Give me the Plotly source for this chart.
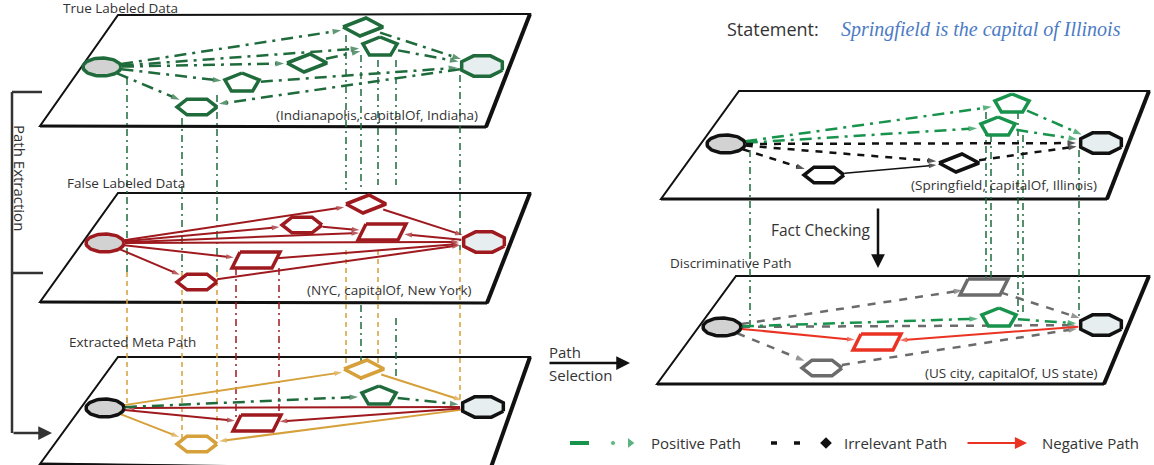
import numpy as np
import plotly.graph_objects as go

W, H = 1154, 465

GREEN_L = '#1f6b3b'
GREEN_R = '#17934c'
DRED = '#9e1a1f'
ORANGE = '#d6a03a'
RED = '#ea3323'
GRAY = '#6b6b6b'
BLACK = '#111111'
SRC_FILL = '#d2d2d2'
TGT_FILL = '#e6eef0'
TXT = '#333333'
FONT = 'Open Sans'

# ---- planes (corners: TL, TR, BR, BL) ----
plane_x = [[118, 530, 486, 40], [118, 530, 487, 40], [118, 530, 490, 40],
           [739, 1149, 1107, 661], [736, 1149, 1104, 657]]
plane_y = [[15, 14, 127, 126], [193, 193, 303, 302], [357, 357, 470, 464],
           [91, 91, 199, 199], [276, 276, 384, 384]]
plane_titles = ['True Labeled Data', 'False Labeled Data', 'Extracted Meta Path', '', 'Discriminative Path']
title_x = [63, 67, 69, 0, 670]
title_y = [8, 183, 342, 0, 263]
triples = ['(Indianapolis, capitalOf, Indiana)', '(NYC, capitalOf, New York)', '',
           '(Springfield, capitalOf, Illinois)', '(US city, capitalOf, US state)']
triple_x = [478, 472, 0, 1097, 1097]
triple_y = [115, 290, 0, 185, 373]

# ---- nodes per plane ----
p1_x = [102, 482, 363, 380, 307, 242, 197]
p1_y = [67, 66, 27, 47, 63, 83, 107]
p1_kind = ['ellipse', 'octagon', 'rhombus', 'pentagon', 'rhombus', 'pentagon', 'hexagon']
p1_col = [GREEN_L] * 7

p2_x = [105, 484, 366, 302, 382, 256, 197]
p2_y = [243, 242, 204, 225, 232, 260, 282]
p2_kind = ['ellipse', 'octagon', 'rhombus', 'hexagon', 'square', 'square', 'hexagon']
p2_col = [DRED] * 7

p3_x = [105, 483, 364, 379, 257, 197]
p3_y = [408, 407, 369, 396, 423, 444]
p3_kind = ['ellipse', 'octagon', 'rhombus', 'pentagon', 'square', 'hexagon']
p3_col = [BLACK, BLACK, ORANGE, GREEN_L, DRED, ORANGE]

r1_x = [726, 1101, 1012, 998, 959, 824]
r1_y = [144, 143, 104, 127, 163, 175]
r1_kind = ['ellipse', 'octagon', 'pentagon', 'pentagon', 'rhombus', 'hexagon']
r1_col = [BLACK, BLACK, GREEN_R, GREEN_R, BLACK, BLACK]

r2_x = [722, 1101, 984, 999, 877, 822]
r2_y = [327, 325, 287, 318, 342, 368]
r2_kind = ['ellipse', 'octagon', 'square', 'pentagon', 'square', 'hexagon']
r2_col = [BLACK, BLACK, GRAY, GREEN_R, RED, GRAY]

# node half sizes by kind
size_rx = {'ellipse': 19, 'octagon': 22, 'rhombus': 20, 'pentagon': 18, 'hexagon': 20, 'square': 20}
size_ry = {'ellipse': 9, 'octagon': 11, 'rhombus': 9, 'pentagon': 10, 'hexagon': 9, 'square': 8}

# ---- edges (from, to) per plane & style ----
p1_pos = [(0, 2), (2, 1), (0, 3), (3, 1), (0, 4), (4, 3), (0, 5), (5, 1), (0, 6), (1, 6)]
p2_neg = [(0, 2), (2, 1), (0, 3), (3, 4), (0, 4), (1, 4), (0, 1), (0, 5), (5, 1), (0, 6), (6, 1)]
p3_ora = [(0, 2), (2, 1), (0, 5), (1, 5)]
p3_red = [(0, 4), (1, 4), (1, 0)]
p3_pos = [(0, 3), (3, 1)]
r1_pos = [(0, 2), (2, 1), (0, 3), (3, 1)]
r1_irr = [(0, 1), (0, 5), (0, 4), (4, 1)]
r1_blk = [(5, 4)]
r2_irr = [(0, 2), (2, 1), (0, 5), (5, 1), (0, 1)]
r2_pos = [(0, 3), (3, 1)]
r2_neg = [(0, 4), (1, 4)]

# ---- vertical projection lines ----
v_x = [127, 182, 217, 346, 361, 361, 378, 396, 396, 460,
       127, 182, 217, 346, 378, 460,
       236, 279,
       750, 986, 991, 1018, 1023, 1079]
v_y0 = [78, 118, 95, 35, 55, 305, 60, 60, 318, 75,
        272, 272, 272, 250, 250, 250,
        268, 268,
        150, 112, 135, 112, 135, 150]
v_y1 = [272, 272, 272, 190, 190, 380, 185, 185, 380, 250,
        405, 440, 440, 372, 368, 400,
        418, 418,
        325, 282, 282, 312, 312, 320]
v_kind = ['g'] * 10 + ['o'] * 6 + ['r'] * 2 + ['g'] * 6


def outline(kind, cx, cy, rx, ry):
    if kind == 'ellipse':
        t = np.linspace(0, 2 * np.pi, 60)
        return list(cx + rx * np.cos(t)), list(cy + ry * np.sin(t))
    if kind == 'rhombus':
        xs = [cx - rx, cx + 3, cx + rx, cx - 3, cx - rx]
        ys = [cy, cy - ry, cy, cy + ry, cy]
        return xs, ys
    if kind == 'square':
        s = 4
        xs = [cx - rx + s, cx + rx + s, cx + rx - s, cx - rx - s, cx - rx + s]
        ys = [cy - ry, cy - ry, cy + ry, cy + ry, cy - ry]
        return xs, ys
    n, a0 = {'octagon': (8, 22.5), 'hexagon': (6, 0), 'pentagon': (5, -90)}[kind]
    a = np.radians(a0 + 360 / n * np.arange(n + 1))
    return list(cx + rx * np.cos(a)), list(cy + ry * np.sin(a))


def edge_pt(cx, cy, kind, tx, ty, pad):
    rx, ry = size_rx[kind], size_ry[kind]
    dx, dy = tx - cx, ty - cy
    d = np.hypot(dx, dy)
    k = 1 / np.sqrt((dx / rx) ** 2 + (dy / ry) ** 2)
    return cx + dx * k + dx / d * pad, cy + dy * k + dy / d * pad


fig = go.Figure()

# planes
shapes = []
for px, py in zip(plane_x, plane_y):
    path = 'M {} {} L {} {} L {} {} L {} {} Z'.format(px[0], py[0], px[1], py[1], px[2], py[2], px[3], py[3])
    shapes.append(dict(type='path', path=path, fillcolor='white', line=dict(color=BLACK, width=2), layer='below'))
    shapes.append(dict(type='line', x0=px[1], y0=py[1], x1=px[2], y1=py[2], line=dict(color=BLACK, width=4), layer='below'))
    shapes.append(dict(type='line', x0=px[3], y0=py[3], x1=px[2], y1=py[2], line=dict(color=BLACK, width=3), layer='below'))

# vertical lines
vstyle = {'g': (GREEN_L, '7px,4px,2px,4px'), 'o': (ORANGE, '5px,4px'), 'r': (DRED, '7px,4px,2px,4px')}
for key, (col, dash) in vstyle.items():
    xs, ys = [], []
    for x, y0, y1, k in zip(v_x, v_y0, v_y1, v_kind):
        if k == key:
            xs += [x, x, None]
            ys += [y0, y1, None]
    fig.add_trace(go.Scatter(x=xs, y=ys, mode='lines', line=dict(color=col, width=1.5, dash=dash),
                             hoverinfo='skip', showlegend=False))


def add_edges(nx, ny, nk, edges, col, width, dash, arrow=9):
    xs, ys, sz = [], [], []
    for i, j in edges:
        sx, sy = edge_pt(nx[i], ny[i], nk[i], nx[j], ny[j], 1)
        ex, ey = edge_pt(nx[j], ny[j], nk[j], nx[i], ny[i], 3)
        xs += [sx, ex, None]
        ys += [sy, ey, None]
        sz += [0, arrow, 0]
    fig.add_trace(go.Scatter(x=xs, y=ys, mode='lines+markers',
                             line=dict(color=col, width=width, dash=dash),
                             marker=dict(symbol='arrow', size=sz, color=col, angleref='previous', line=dict(width=0)),
                             hoverinfo='skip', showlegend=False))


def add_nodes(nx, ny, nk, nc):
    for i, (x, y, k, c) in enumerate(zip(nx, ny, nk, nc)):
        xs, ys = outline(k, x, y, size_rx[k], size_ry[k])
        fill = SRC_FILL if k == 'ellipse' else (TGT_FILL if k == 'octagon' else 'white')
        fig.add_trace(go.Scatter(x=xs, y=ys, mode='lines', fill='toself', fillcolor=fill,
                                 line=dict(color=c, width=3.5),
                                 hoverinfo='skip', showlegend=False))


DASHDOT = '12px,6px,3px,6px'
add_edges(p1_x, p1_y, p1_kind, p1_pos, GREEN_L, 2.5, DASHDOT)
add_edges(p2_x, p2_y, p2_kind, p2_neg, DRED, 2, 'solid', 8)
add_edges(p3_x, p3_y, p3_kind, p3_ora, ORANGE, 2, 'solid', 8)
add_edges(p3_x, p3_y, p3_kind, p3_red, DRED, 2, 'solid', 8)
add_edges(p3_x, p3_y, p3_kind, p3_pos, GREEN_L, 2.5, DASHDOT)
add_edges(r1_x, r1_y, r1_kind, r1_pos, GREEN_R, 2.5, DASHDOT)
add_edges(r1_x, r1_y, r1_kind, r1_irr, BLACK, 2.5, '7px,7px')
add_edges(r1_x, r1_y, r1_kind, r1_blk, BLACK, 1.5, 'solid', 8)
add_edges(r2_x, r2_y, r2_kind, r2_irr, GRAY, 2.5, '8px,8px')
add_edges(r2_x, r2_y, r2_kind, r2_pos, GREEN_R, 2.5, DASHDOT)
add_edges(r2_x, r2_y, r2_kind, r2_neg, RED, 2, 'solid', 8)

add_nodes(p1_x, p1_y, p1_kind, p1_col)
add_nodes(p2_x, p2_y, p2_kind, p2_col)
add_nodes(p3_x, p3_y, p3_kind, p3_col)
add_nodes(r1_x, r1_y, r1_kind, r1_col)
add_nodes(r2_x, r2_y, r2_kind, r2_col)

# ---- bracket and arrows ----
shapes += [
    dict(type='line', x0=12, y0=92, x1=42, y1=92, line=dict(color=TXT, width=2.5)),
    dict(type='line', x0=12, y0=92, x1=12, y1=433, line=dict(color=TXT, width=2.5)),
    dict(type='line', x0=12, y0=273, x1=43, y1=273, line=dict(color=TXT, width=2.5)),
]
ann = []
arrows = [(12, 433, 52, 433), (548, 363, 630, 363), (878, 207, 878, 268), (966, 443, 1027, 443)]
arrow_col = [TXT, BLACK, BLACK, RED]
for (x0, y0, x1, y1), c in zip(arrows, arrow_col):
    ann.append(dict(x=x1, y=y1, ax=x0, ay=y0, xref='x', yref='y', axref='x', ayref='y', text='',
                    showarrow=True, arrowhead=2, arrowsize=1.1, arrowwidth=2.5 if c != RED else 2.2, arrowcolor=c))

# legend symbols
fig.add_trace(go.Scatter(x=[570, 589], y=[443, 443], mode='lines', line=dict(color=GREEN_R, width=4),
                         hoverinfo='skip', showlegend=False))
fig.add_trace(go.Scatter(x=[613, 630], y=[443, 443], mode='markers',
                         marker=dict(symbol=['circle', 'triangle-right'], size=[5, 10], color=GREEN_R),
                         hoverinfo='skip', showlegend=False))
fig.add_trace(go.Scatter(x=[771, 777, None, 794, 800], y=[443, 443, None, 443, 443], mode='lines',
                         line=dict(color=BLACK, width=3.5), hoverinfo='skip', showlegend=False))
fig.add_trace(go.Scatter(x=[826], y=[443], mode='markers', marker=dict(symbol='diamond', size=9, color=BLACK),
                         hoverinfo='skip', showlegend=False))


def label(x, y, text, size=12, anchor='left', color=TXT, **kw):
    ann.append(dict(x=x, y=y, xref='x', yref='y', text=text, showarrow=False, xanchor=anchor, yanchor='middle',
                    font=dict(family=kw.get('family', FONT), size=size, color=color), textangle=kw.get('angle', 0)))


for t, x, y in zip(plane_titles, title_x, title_y):
    if t:
        label(x - 2, y, t, 13.5)
for t, x, y in zip(triples, triple_x, triple_y):
    if t:
        label(x + 2, y, t, 13.5, anchor='right')

label(20, 178, 'Path Extraction', 15, anchor='center', angle=90)
label(547, 352, 'Path', 15)
label(547, 375, 'Selection', 15)
label(769, 230, 'Fact Checking', 15.5)
label(725, 29, 'Statement:', 18)
label(839, 29, '<i>Springfield is the capital of Illinois</i>', 20, color='#4b7bc4', family='Liberation Serif')
label(649, 443, 'Positive Path', 15)
label(842, 443, 'Irrelevant Path', 15)
label(1040, 443, 'Negative Path', 15)

fig.update_layout(
    width=W, height=H, margin=dict(l=0, r=0, t=0, b=0),
    paper_bgcolor='white', plot_bgcolor='white',
    xaxis=dict(range=[0, W], visible=False, fixedrange=True),
    yaxis=dict(range=[H, 0], visible=False, fixedrange=True),
    shapes=shapes, annotations=ann, showlegend=False,
)
fig.write_html('out.html', config={'displayModeBar': False},
               post_script="document.body.style.margin='0';")
